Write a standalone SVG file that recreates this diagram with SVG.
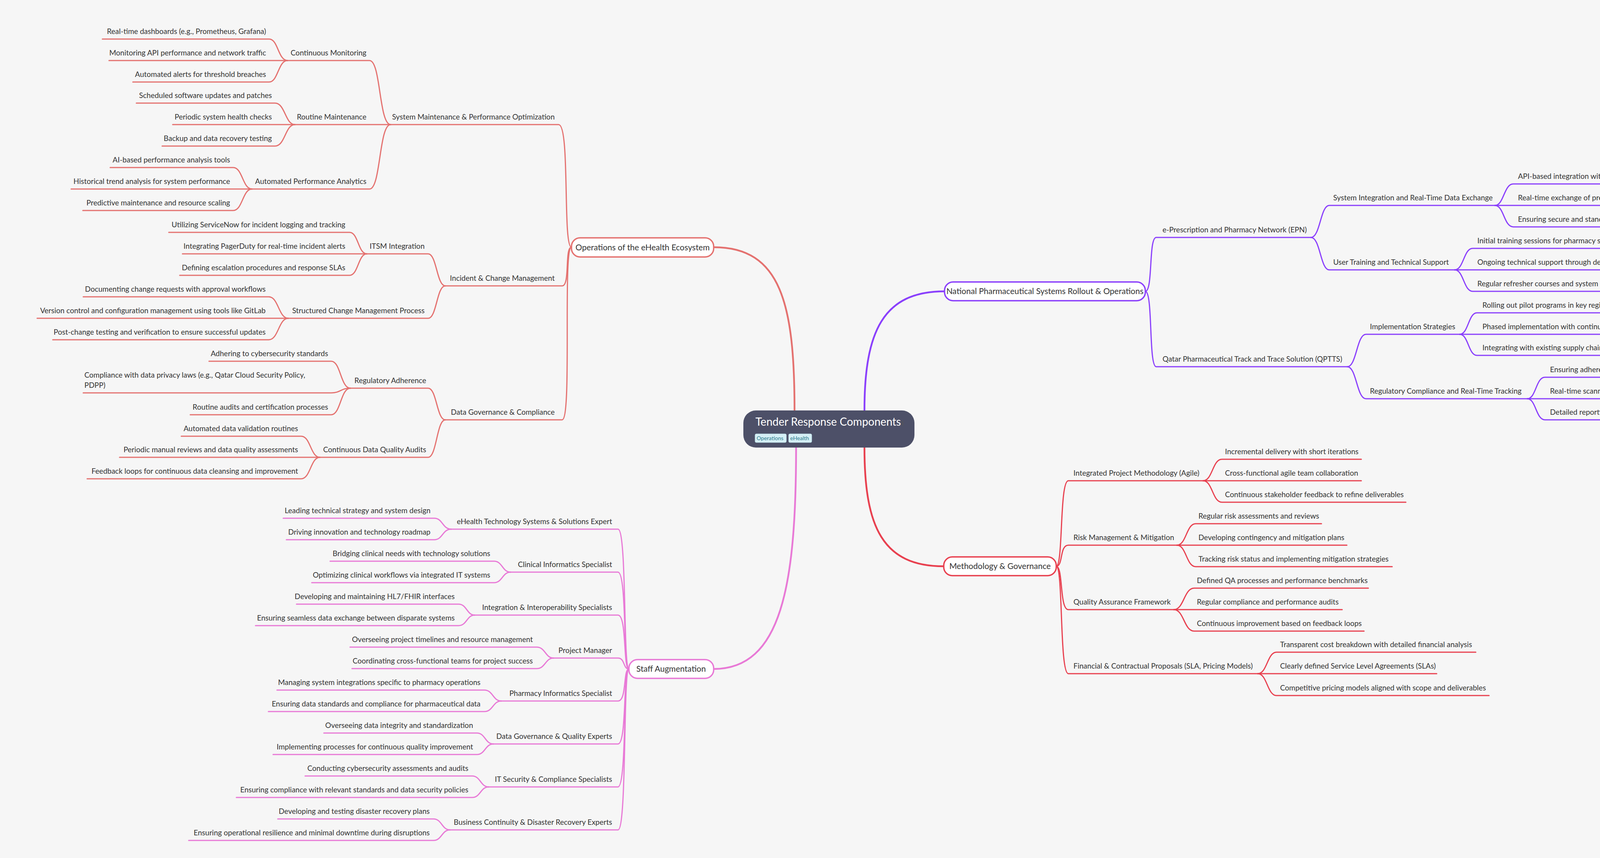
<svg xmlns="http://www.w3.org/2000/svg" width="4525" height="2197" viewBox="0 0 4525 2197">
<style>
text{font-family:Lato,"Open Sans","Liberation Sans",sans-serif;font-size:19px;fill:#333}
.e{text-anchor:end}
.c{text-anchor:middle;font-size:21px}
path{fill:none;stroke-width:3;stroke-linecap:round}
.o{stroke:#e4716f}.p{stroke:#8a3ffc}.r{stroke:#e8404f}.k{stroke:#e879d6}
.main{stroke-width:4.5}
.box{fill:#fff;stroke-width:3.5}
.tag{fill:#d5eff5;stroke:#bfe3ec;stroke-width:1}
.tagt{font-size:14px;fill:#2c7a8c}
</style>
<rect width="4525" height="2197" fill="#f6f6f6"/>
<g id="connectors">
<path class="o main" d="M2034 1051 C2034 780 2000 633 1827 633"/>
<path class="k main" d="M2038 1146 C2038 1500 2000 1713 1827 1713"/>
<path class="p main" d="M2213 1051 C2213 850 2260 746 2418 746"/>
<path class="r main" d="M2213 1146 C2213 1350 2260 1450 2416 1450"/>
<path class="o" d="M1000 319 H1430 C1460 319 1440 633 1463 633"/>
<path class="o" d="M736 155 H946 C975 155 970 319 1000 319"/>
<path class="o" d="M262 100 H689 C712 100 712 155 736 155"/>
<path class="o" d="M279 155 H736"/>
<path class="o" d="M340 210 H689 C712 210 712 155 736 155"/>
<path class="o" d="M755 319 H1000"/>
<path class="o" d="M349 264 H704 C730 264 730 319 755 319"/>
<path class="o" d="M442 319 H755"/>
<path class="o" d="M415 374 H704 C730 374 730 319 755 319"/>
<path class="o" d="M645 484 H946 C975 484 970 319 1000 319"/>
<path class="o" d="M282 429 H597 C621 429 621 484 645 484"/>
<path class="o" d="M182 484 H645"/>
<path class="o" d="M212 539 H597 C621 539 621 484 645 484"/>
<path class="o" d="M1140 732 H1439 C1460 732 1445 633 1463 633"/>
<path class="o" d="M939 650 H1096 C1118 650 1118 732 1140 732"/>
<path class="o" d="M432 595 H895 C917 595 917 650 939 650"/>
<path class="o" d="M467 650 H939"/>
<path class="o" d="M460 705 H895 C917 705 917 650 939 650"/>
<path class="o" d="M738 815 H1096 C1118 815 1118 732 1140 732"/>
<path class="o" d="M213 760 H688 C713 760 713 815 738 815"/>
<path class="o" d="M95 815 H738"/>
<path class="o" d="M135 870 H688 C713 870 713 815 738 815"/>
<path class="o" d="M1140 1075 H1439 C1465 1075 1440 633 1463 633"/>
<path class="o" d="M897 994 H1096 C1118 994 1118 1075 1140 1075"/>
<path class="o" d="M535 925 H848 C872 925 872 994 897 994"/>
<path class="o" d="M213 1006 H848 C872 1006 872 994 897 994"/>
<path class="o" d="M487 1062 H848 C872 1062 872 994 897 994"/>
<path class="o" d="M819 1171 H1096 C1118 1171 1118 1075 1140 1075"/>
<path class="o" d="M464 1117 H771 C795 1117 795 1171 819 1171"/>
<path class="o" d="M306 1171 H819"/>
<path class="o" d="M223 1226 H771 C795 1226 795 1171 819 1171"/>
<path class="k" d="M1155 1355 H1582 C1605 1355 1595 1713 1610 1713"/>
<path class="k" d="M725 1327 H1112 C1133 1327 1133 1355 1155 1355"/>
<path class="k" d="M733 1382 H1112 C1133 1382 1133 1355 1155 1355"/>
<path class="k" d="M1307 1465 H1582 C1605 1465 1595 1713 1610 1713"/>
<path class="k" d="M845 1437 H1265 C1286 1437 1286 1465 1307 1465"/>
<path class="k" d="M798 1492 H1265 C1286 1492 1286 1465 1307 1465"/>
<path class="k" d="M1215 1575 H1582 C1605 1575 1595 1713 1610 1713"/>
<path class="k" d="M759 1547 H1174 C1195 1547 1195 1575 1215 1575"/>
<path class="k" d="M654 1602 H1174 C1195 1602 1195 1575 1215 1575"/>
<path class="k" d="M1417 1685 H1582 C1600 1685 1595 1713 1610 1713"/>
<path class="k" d="M896 1657 H1374 C1396 1657 1396 1685 1417 1685"/>
<path class="k" d="M901 1712 H1374 C1396 1712 1396 1685 1417 1685"/>
<path class="k" d="M1283 1795 H1582 C1605 1795 1595 1713 1610 1713"/>
<path class="k" d="M709 1767 H1240 C1262 1767 1262 1795 1283 1795"/>
<path class="k" d="M687 1822 H1240 C1262 1822 1262 1795 1283 1795"/>
<path class="k" d="M1263 1905 H1582 C1605 1905 1595 1713 1610 1713"/>
<path class="k" d="M829 1877 H1221 C1242 1877 1242 1905 1263 1905"/>
<path class="k" d="M699 1932 H1221 C1242 1932 1242 1905 1263 1905"/>
<path class="k" d="M1251 2015 H1582 C1605 2015 1595 1713 1610 1713"/>
<path class="k" d="M781 1987 H1209 C1230 1987 1230 2015 1251 2015"/>
<path class="k" d="M605 2042 H1209 C1230 2042 1230 2015 1251 2015"/>
<path class="k" d="M1152 2125 H1582 C1605 2125 1595 1713 1610 1713"/>
<path class="k" d="M711 2097 H1110 C1131 2097 1131 2125 1152 2125"/>
<path class="k" d="M483 2152 H1110 C1131 2152 1131 2125 1152 2125"/>
<path class="p" d="M2932 746 C2952 746 2940 608 2960 608 H3356"/>
<path class="p" d="M3356 608 C3380 608 3380 526 3403 526 H3827"/>
<path class="p" d="M3827 526 C3850 526 3850 471 3874 471 H4340"/>
<path class="p" d="M3827 526 H4342"/>
<path class="p" d="M3827 526 C3850 526 3850 581 3874 581 H4327"/>
<path class="p" d="M3356 608 C3380 608 3380 691 3403 691 H3724"/>
<path class="p" d="M3724 691 C3747 691 3747 636 3770 636 H4133"/>
<path class="p" d="M3724 691 H4254"/>
<path class="p" d="M3724 691 C3747 691 3747 746 3770 746 H4168"/>
<path class="p" d="M2932 746 C2952 746 2940 939 2960 939 H3449"/>
<path class="p" d="M3449 939 C3473 939 3473 856 3497 856 H3737"/>
<path class="p" d="M3737 856 C3759 856 3759 801 3781 801 H4133"/>
<path class="p" d="M3737 856 H4322"/>
<path class="p" d="M3737 856 C3759 856 3759 910 3781 910 H4289"/>
<path class="p" d="M3449 939 C3473 939 3473 1021 3497 1021 H3910"/>
<path class="p" d="M3910 1021 C3932 1021 3932 966 3955 966 H4428"/>
<path class="p" d="M3910 1021 H4405"/>
<path class="p" d="M3910 1021 C3932 1021 3932 1075 3955 1075 H4323"/>
<path class="r" d="M2704 1450 C2722 1450 2712 1231 2735 1231 H3080"/>
<path class="r" d="M3080 1231 C3104 1231 3104 1176 3128 1176 H3485"/>
<path class="r" d="M3080 1231 H3485"/>
<path class="r" d="M3080 1231 C3104 1231 3104 1286 3128 1286 H3599"/>
<path class="r" d="M2704 1450 C2722 1450 2712 1396 2735 1396 H3013"/>
<path class="r" d="M3013 1396 C3037 1396 3037 1341 3061 1341 H3383"/>
<path class="r" d="M3013 1396 H3448"/>
<path class="r" d="M3013 1396 C3037 1396 3037 1451 3061 1451 H3564"/>
<path class="r" d="M2704 1450 C2722 1450 2712 1561 2735 1561 H3005"/>
<path class="r" d="M3005 1561 C3031 1561 3031 1506 3057 1506 H3503"/>
<path class="r" d="M3005 1561 H3436"/>
<path class="r" d="M3005 1561 C3031 1561 3031 1616 3057 1616 H3492"/>
<path class="r" d="M2704 1450 C2722 1450 2712 1725 2735 1725 H3220"/>
<path class="r" d="M3220 1725 C3244 1725 3244 1670 3268 1670 H3778"/>
<path class="r" d="M3220 1725 H3678"/>
<path class="r" d="M3220 1725 C3244 1725 3244 1781 3268 1781 H3812"/>
</g>
<g id="root">
<rect x="1903" y="1051" width="438" height="95" rx="32" fill="#4d5068"/>
<text x="1934" y="1090" style="font-size:28px;fill:#fff">Tender Response Components</text>
<text x="2306" y="1090" style="font-family:'DejaVu Sans',sans-serif;font-size:18px;fill:#555">⚕</text>
<rect class="tag" x="1933" y="1111" width="80" height="22" rx="3"/>
<text class="tagt" x="1937" y="1127">Operations</text>
<rect class="tag" x="2019" y="1111" width="59" height="22" rx="3"/>
<text class="tagt" x="2023" y="1127">eHealth</text>
</g>
<g id="ops">
<rect class="box o" x="1463" y="609" width="364" height="49" rx="22"/>
<text class="c" x="1645" y="641">Operations of the eHealth Ecosystem</text>
<text class="e" x="1420" y="306">System Maintenance &amp; Performance Optimization</text>
<text class="e" x="938" y="142">Continuous Monitoring</text>
<text class="e" x="681" y="87">Real-time dashboards (e.g., Prometheus, Grafana)</text>
<text class="e" x="681" y="142">Monitoring API performance and network traffic</text>
<text class="e" x="681" y="197">Automated alerts for threshold breaches</text>
<text class="e" x="938" y="306">Routine Maintenance</text>
<text class="e" x="696" y="251">Scheduled software updates and patches</text>
<text class="e" x="696" y="306">Periodic system health checks</text>
<text class="e" x="696" y="361">Backup and data recovery testing</text>
<text class="e" x="938" y="471">Automated Performance Analytics</text>
<text class="e" x="589" y="416">AI-based performance analysis tools</text>
<text class="e" x="589" y="471">Historical trend analysis for system performance</text>
<text class="e" x="589" y="526">Predictive maintenance and resource scaling</text>
<text class="e" x="1420" y="719">Incident &amp; Change Management</text>
<text class="e" x="1087" y="637">ITSM Integration</text>
<text class="e" x="884" y="582">Utilizing ServiceNow for incident logging and tracking</text>
<text class="e" x="884" y="637">Integrating PagerDuty for real-time incident alerts</text>
<text class="e" x="884" y="692">Defining escalation procedures and response SLAs</text>
<text class="e" x="1087" y="802">Structured Change Management Process</text>
<text class="e" x="680" y="747">Documenting change requests with approval workflows</text>
<text class="e" x="680" y="802">Version control and configuration management using tools like GitLab</text>
<text class="e" x="680" y="857">Post-change testing and verification to ensure successful updates</text>
<text class="e" x="1420" y="1062">Data Governance &amp; Compliance</text>
<text class="e" x="1091" y="981">Regulatory Adherence</text>
<text class="e" x="840" y="912">Adhering to cybersecurity standards</text>
<text x="216" y="967">Compliance with data privacy laws (e.g., Qatar Cloud Security Policy,</text>
<text x="216" y="993">PDPP)</text>
<text class="e" x="840" y="1049">Routine audits and certification processes</text>
<text class="e" x="1091" y="1158">Continuous Data Quality Audits</text>
<text class="e" x="763" y="1104">Automated data validation routines</text>
<text class="e" x="763" y="1158">Periodic manual reviews and data quality assessments</text>
<text class="e" x="763" y="1213">Feedback loops for continuous data cleansing and improvement</text>
</g>
<g id="staff">
<rect class="box k" x="1610" y="1689" width="217" height="48" rx="22"/>
<text class="c" x="1718" y="1720">Staff Augmentation</text>
<text class="e" x="1567" y="1342">eHealth Technology Systems &amp; Solutions Expert</text>
<text class="e" x="1102" y="1314">Leading technical strategy and system design</text>
<text class="e" x="1102" y="1369">Driving innovation and technology roadmap</text>
<text class="e" x="1567" y="1452">Clinical Informatics Specialist</text>
<text class="e" x="1255" y="1424">Bridging clinical needs with technology solutions</text>
<text class="e" x="1255" y="1479">Optimizing clinical workflows via integrated IT systems</text>
<text class="e" x="1567" y="1562">Integration &amp; Interoperability Specialists</text>
<text class="e" x="1164" y="1534">Developing and maintaining HL7/FHIR interfaces</text>
<text class="e" x="1164" y="1589">Ensuring seamless data exchange between disparate systems</text>
<text class="e" x="1567" y="1672">Project Manager</text>
<text class="e" x="1364" y="1644">Overseeing project timelines and resource management</text>
<text class="e" x="1364" y="1699">Coordinating cross-functional teams for project success</text>
<text class="e" x="1567" y="1782">Pharmacy Informatics Specialist</text>
<text class="e" x="1230" y="1754">Managing system integrations specific to pharmacy operations</text>
<text class="e" x="1230" y="1809">Ensuring data standards and compliance for pharmaceutical data</text>
<text class="e" x="1567" y="1892">Data Governance &amp; Quality Experts</text>
<text class="e" x="1211" y="1864">Overseeing data integrity and standardization</text>
<text class="e" x="1211" y="1919">Implementing processes for continuous quality improvement</text>
<text class="e" x="1567" y="2002">IT Security &amp; Compliance Specialists</text>
<text class="e" x="1199" y="1974">Conducting cybersecurity assessments and audits</text>
<text class="e" x="1199" y="2029">Ensuring compliance with relevant standards and data security policies</text>
<text class="e" x="1567" y="2112">Business Continuity &amp; Disaster Recovery Experts</text>
<text class="e" x="1100" y="2084">Developing and testing disaster recovery plans</text>
<text class="e" x="1100" y="2139">Ensuring operational resilience and minimal downtime during disruptions</text>
</g>
<g id="nps">
<rect class="box p" x="2418" y="722" width="514" height="48" rx="22"/>
<text class="c" x="2675" y="753">National Pharmaceutical Systems Rollout &amp; Operations</text>
<text x="2976" y="595">e-Prescription and Pharmacy Network (EPN)</text>
<text x="3413" y="513">System Integration and Real-Time Data Exchange</text>
<text x="3886" y="458">API-based integration with existing pharmacy systems</text>
<text x="3886" y="513">Real-time exchange of prescription and inventory data</text>
<text x="3886" y="568">Ensuring secure and standardized data transmission</text>
<text x="3413" y="678">User Training and Technical Support</text>
<text x="3782" y="623">Initial training sessions for pharmacy staff</text>
<text x="3782" y="678">Ongoing technical support through dedicated helpdesks</text>
<text x="3782" y="733">Regular refresher courses and system updates</text>
<text x="2976" y="926">Qatar Pharmaceutical Track and Trace Solution (QPTTS)</text>
<text x="3507" y="843">Implementation Strategies</text>
<text x="3795" y="788">Rolling out pilot programs in key regions</text>
<text x="3795" y="843">Phased implementation with continuous stakeholder feedback</text>
<text x="3795" y="897">Integrating with existing supply chain and tracking systems</text>
<text x="3507" y="1008">Regulatory Compliance and Real-Time Tracking</text>
<text x="3968" y="953">Ensuring adherence to national traceability regulations</text>
<text x="3968" y="1008">Real-time scanning and tracking of pharmaceuticals</text>
<text x="3968" y="1062">Detailed reporting for regulatory oversight</text>
</g>
<g id="method">
<rect class="box r" x="2416" y="1426" width="288" height="48" rx="22"/>
<text class="c" x="2560" y="1457">Methodology &amp; Governance</text>
<text x="2748" y="1218">Integrated Project Methodology (Agile)</text>
<text x="3136" y="1163">Incremental delivery with short iterations</text>
<text x="3136" y="1218">Cross-functional agile team collaboration</text>
<text x="3136" y="1273">Continuous stakeholder feedback to refine deliverables</text>
<text x="2748" y="1383">Risk Management &amp; Mitigation</text>
<text x="3068" y="1328">Regular risk assessments and reviews</text>
<text x="3068" y="1383">Developing contingency and mitigation plans</text>
<text x="3068" y="1438">Tracking risk status and implementing mitigation strategies</text>
<text x="2748" y="1548">Quality Assurance Framework</text>
<text x="3064" y="1493">Defined QA processes and performance benchmarks</text>
<text x="3064" y="1548">Regular compliance and performance audits</text>
<text x="3064" y="1603">Continuous improvement based on feedback loops</text>
<text x="2748" y="1712">Financial &amp; Contractual Proposals (SLA, Pricing Models)</text>
<text x="3277" y="1657">Transparent cost breakdown with detailed financial analysis</text>
<text x="3277" y="1712">Clearly defined Service Level Agreements (SLAs)</text>
<text x="3277" y="1768">Competitive pricing models aligned with scope and deliverables</text>
</g>
</svg>
